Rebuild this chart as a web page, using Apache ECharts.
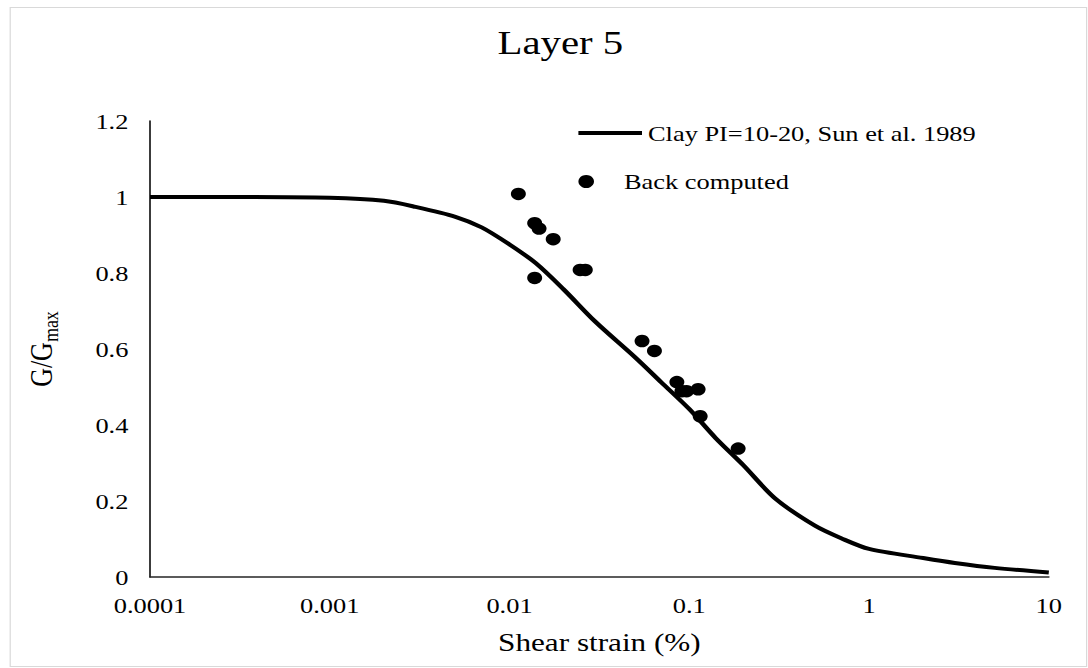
<!DOCTYPE html>
<html>
<head>
<meta charset="utf-8">
<title>Layer 5</title>
<script src="https://cdn.jsdelivr.net/npm/echarts@6/dist/echarts.min.js"></script>
<style>
  html, body { margin: 0; padding: 0; background: #ffffff; overflow: hidden; }
  /* the chart is laid out narrower and widened horizontally, giving the stretched serif look */
  #chart { width: 907px; height: 668px; transform: scaleX(1.2); transform-origin: 0 0; }
</style>
</head>
<body>
<div id="chart"></div>
<script>
// Modulus reduction curve: clay PI = 10-20 (Sun et al. 1989)
const curveStrain = [0.0001, 0.0003, 0.001, 0.002, 0.003, 0.005, 0.007, 0.01, 0.014, 0.02, 0.03, 0.05, 0.07, 0.1, 0.14, 0.2, 0.3, 0.5, 0.7, 1, 2, 3, 5, 10];
const curveG      = [1.0,    1.0,    0.998, 0.99,  0.974, 0.948, 0.92,  0.875, 0.826, 0.757, 0.672, 0.578, 0.512, 0.442, 0.366, 0.294, 0.207, 0.135, 0.102, 0.074, 0.05, 0.037, 0.024, 0.012];

// Back-computed G/Gmax values
const backStrain = [0.0112, 0.0138, 0.0146, 0.0175, 0.0138, 0.0247, 0.0264, 0.0546, 0.064, 0.0853, 0.091, 0.0966, 0.112, 0.115, 0.187];
const backG      = [1.008,  0.931,  0.917,  0.889,  0.787,  0.808,  0.808,  0.621,  0.595, 0.513,  0.489, 0.489,  0.494, 0.423, 0.338];

// Axis tick labels
const xTickLabels = ['0.0001', '0.001', '0.01', '0.1', '1', '10'];
const yTickLabels = ['0', '0.2', '0.4', '0.6', '0.8', '1', '1.2'];

const seriesNames = ['Clay PI=10-20, Sun et al. 1989', 'Back computed'];

const FONT = 'Liberation Serif';
const INK = '#000000';

const chart = echarts.init(document.getElementById('chart'), null, { renderer: 'svg' });

const legendText = { fontFamily: FONT, fontSize: 22, color: INK };

chart.setOption({
  backgroundColor: '#ffffff',
  animation: false,
  textStyle: { fontFamily: FONT },
  title: {
    text: 'Layer 5',
    left: 462, top: 21, textAlign: 'center',
    textStyle: { fontFamily: FONT, fontSize: 34, fontWeight: 'normal', color: INK }
  },
  graphic: [{
    type: 'rect', left: 6, top: 5,
    shape: { width: 897, height: 659 },
    style: { fill: 'none', stroke: '#d9d9d9', lineWidth: 1 },
    silent: true, z: -1
  }],
  legend: [
    {
      left: 482, top: 122, padding: 0,
      itemWidth: 53, itemHeight: 4, icon: 'rect',
      textStyle: legendText,
      data: [seriesNames[0]]
    },
    {
      left: 482, top: 170.5, padding: 0,
      itemWidth: 53, itemHeight: 13, icon: 'circle',
      textStyle: legendText,
      data: [seriesNames[1]]
    }
  ],
  grid: { left: 125, top: 121, width: 749, height: 456, containLabel: false },
  xAxis: {
    type: 'log', logBase: 10, min: 0.0001, max: 10,
    name: 'Shear strain (%)', nameLocation: 'middle', nameGap: 52,
    nameTextStyle: { fontFamily: FONT, fontSize: 26, color: INK },
    axisLine: { show: true, lineStyle: { color: '#262626', width: 1.5 } },
    axisTick: { show: false },
    splitLine: { show: false },
    minorTick: { show: false },
    axisLabel: {
      fontFamily: FONT, fontSize: 22, color: INK, margin: 17,
      formatter: v => xTickLabels[Math.round(Math.log10(v)) + 4]
    }
  },
  yAxis: {
    type: 'value', min: 0, max: 1.2, interval: 0.2,
    name: '{g|G/G}{s|max}', nameLocation: 'middle', nameGap: 74,
    nameTextStyle: {
      color: INK,
      rich: {
        g: { fontFamily: FONT, fontSize: 26, color: INK, verticalAlign: 'top' },
        s: { fontFamily: FONT, fontSize: 18, color: INK, verticalAlign: 'top', padding: [12, 0, 0, 0] }
      }
    },
    axisLine: { show: true, lineStyle: { color: '#262626', width: 1.5 } },
    axisTick: { show: false },
    splitLine: { show: false },
    axisLabel: {
      fontFamily: FONT, fontSize: 22, color: INK, margin: 18,
      formatter: v => yTickLabels[Math.round(v / 0.2)]
    }
  },
  series: [
    {
      name: seriesNames[0],
      type: 'line',
      data: curveStrain.map((s, i) => [s, curveG[i]]),
      smooth: 0.3,
      showSymbol: false, symbol: 'none',
      lineStyle: { color: INK, width: 4 },
      itemStyle: { color: INK },
      z: 2
    },
    {
      name: seriesNames[1],
      type: 'scatter',
      data: backStrain.map((s, i) => [s, backG[i]]),
      symbol: 'circle', symbolSize: 12.5,
      itemStyle: { color: INK, opacity: 1 },
      z: 3
    }
  ]
});
</script>
</body>
</html>
